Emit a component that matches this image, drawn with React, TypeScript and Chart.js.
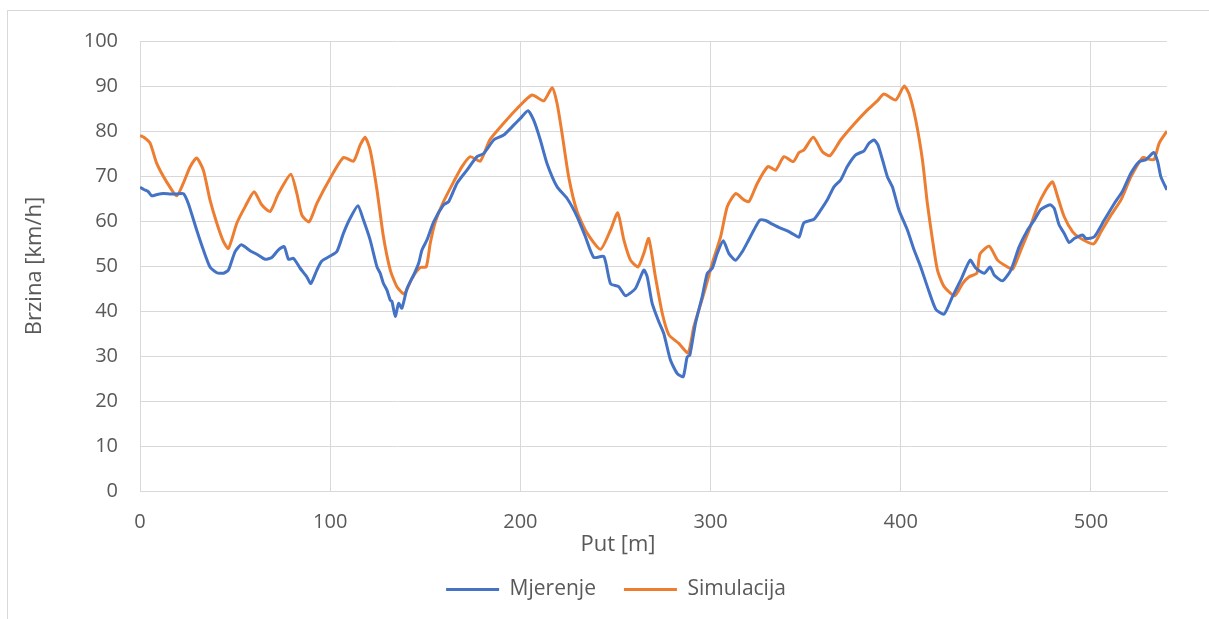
import React, { useEffect, useRef } from "react";
import { Chart, registerables } from "chart.js";

Chart.register(...registerables);

const mjerenjeX = [0, 2, 4.4, 6.1, 9, 12.3, 16, 19.3, 22.8, 25.4, 29.8, 33.3, 36.8, 40.4, 43.9, 46.5, 50, 53.2, 57.9, 62.3, 65.8, 69.3, 72.8, 75.8, 78.1, 80.7, 84.2, 87.7, 89.8, 93, 95.6, 100, 103.5, 107, 110.5, 114.6, 117.5, 121, 124.6, 126.3, 128, 129.8, 131.6, 132.5, 134.2, 136, 137.7, 140.4, 143.9, 146.5, 148.3, 150.9, 154.4, 159.6, 162.3, 166.7, 171.9, 177.2, 180.7, 186, 191.2, 196.5, 200, 204, 207, 210.5, 214, 219.3, 224.6, 229.8, 234.2, 238.6, 243.9, 247.4, 251.7, 255.3, 260.5, 264.9, 266.7, 269.3, 272.8, 275.4, 278.9, 282.5, 285.6, 287.7, 289.1, 292.1, 295.6, 298.3, 300.9, 303.5, 306.7, 309.6, 313.2, 316.7, 319.3, 322.8, 325.9, 328.9, 332.5, 336.8, 340.4, 343.8, 346.5, 349.1, 354.4, 357.9, 361.4, 364.9, 368.4, 371.9, 376.3, 380.7, 383.3, 386, 388, 390.4, 393, 395.6, 399.1, 403.5, 407, 410.5, 414, 418.4, 422.8, 427.2, 431.6, 436.5, 439.5, 443.9, 447, 449.1, 453.5, 457.9, 462.3, 466.7, 470.2, 473.7, 478.6, 480.7, 483.3, 485.9, 488.6, 491.2, 495.6, 497.4, 501.8, 507, 512.3, 516.7, 521, 525.4, 528.9, 533, 535.1, 536.8, 540];
const mjerenjeV = [67.5, 67.0, 66.5, 65.6, 65.9, 66.1, 66.0, 66.0, 66.1, 63.9, 58, 53.6, 49.8, 48.5, 48.4, 49.1, 53.2, 54.7, 53.4, 52.4, 51.5, 51.9, 53.6, 54.3, 51.5, 51.7, 49.5, 47.6, 46.1, 49.1, 51.1, 52.2, 53.2, 57.3, 60.6, 63.4, 60.2, 55.8, 49.8, 48.4, 46.1, 44.7, 42.4, 42.1, 38.8, 41.7, 40.6, 45.0, 48, 50.6, 53.6, 55.8, 59.8, 63.6, 64.3, 68.4, 71.3, 74.3, 75, 78, 79.1, 81.3, 82.8, 84.5, 82.4, 78, 72.8, 67.6, 65, 61, 56.5, 51.9, 52.1, 46.1, 45.4, 43.4, 45, 49.1, 47.6, 41.7, 37.6, 35, 29.1, 26.1, 25.4, 29.8, 30.2, 37.3, 43.2, 48.4, 49.5, 52.8, 55.6, 52.8, 51.3, 53.2, 55.2, 58, 60.2, 60.1, 59.3, 58.4, 57.8, 57, 56.4, 59.6, 60.4, 62.4, 64.7, 67.6, 69.1, 72.1, 74.7, 75.6, 77.3, 78, 76.9, 73.6, 69.8, 67.6, 62.4, 58, 53.6, 49.8, 45.4, 40.4, 39.3, 43.2, 46.9, 51.3, 49.5, 48.4, 49.8, 48, 46.7, 49.1, 54.3, 58, 60.2, 62.6, 63.6, 62.8, 59.1, 57.3, 55.2, 56.1, 56.9, 56.1, 56.5, 60.2, 63.9, 66.7, 70.6, 73.2, 73.6, 75.2, 73.2, 69.8, 66.9];

const simulacijaX = [0, 2, 5.3, 8.8, 14, 19.3, 22.8, 26.3, 29.8, 33.3, 36.8, 40.4, 43.9, 46.5, 50.9, 55.3, 60, 64, 68.4, 72.8, 79.3, 82.5, 85.1, 88.9, 93, 100, 107, 112.3, 115.8, 118.4, 121, 124.6, 128, 131.6, 135.1, 139, 143, 147.4, 150.5, 152.6, 155.3, 159.6, 164.9, 169.3, 173.7, 178.9, 183.9, 191.2, 198.3, 206.1, 212.3, 216.7, 219.3, 221.9, 225.4, 229.8, 235.1, 242.1, 247.4, 251.2, 254.4, 257.9, 261.9, 264.9, 267.5, 271, 274.6, 278.1, 283.3, 288.2, 291.2, 296.5, 300.9, 305.3, 308.8, 313.2, 317.5, 320.2, 324.6, 330.2, 334.2, 338.6, 343.5, 346.5, 349.1, 354, 358.8, 362.8, 368.4, 375.4, 382.5, 387.7, 391.2, 397.4, 401.8, 404.4, 407.9, 411.4, 414, 416.7, 419.3, 422.8, 428.4, 432.5, 436, 440, 441.7, 446.5, 450.9, 455.3, 458.8, 463.2, 467.5, 471.9, 476.3, 479.8, 482.5, 485.9, 490.4, 494.7, 501.4, 505.3, 510.5, 515.8, 521, 527.2, 530.7, 533.3, 535.9, 540];
const simulacijaV = [79.0, 78.6, 77.3, 72.8, 68.7, 65.6, 68.4, 72, 74, 71.3, 64.7, 59.5, 55.4, 53.9, 59.5, 63.2, 66.5, 63.6, 62.1, 66.1, 70.4, 66.1, 61.3, 59.8, 63.9, 69.5, 74.1, 73.3, 76.9, 78.6, 75.8, 66.9, 56.5, 49.1, 45.4, 43.8, 47.3, 49.7, 49.8, 55, 59.8, 64.3, 68.7, 72.1, 74.3, 73.3, 78, 81.7, 85, 88, 86.7, 89.6, 86.1, 79.5, 69.8, 62.1, 57.3, 53.7, 58, 61.8, 55.8, 51.3, 49.8, 52.8, 56.1, 47.6, 39.5, 34.7, 32.8, 30.7, 36.5, 43.9, 50.6, 56.5, 63.2, 66.1, 64.7, 64.3, 68.4, 72.1, 71.3, 74.3, 73.2, 75.2, 75.8, 78.6, 75.4, 74.5, 78, 81.5, 84.7, 86.7, 88.2, 86.9, 90, 88.2, 82.4, 73.6, 63.9, 55.8, 49.1, 45.4, 43.4, 46.1, 47.6, 48.4, 52.7, 54.4, 51.3, 50, 49.3, 53.6, 58, 63.2, 66.9, 68.7, 65.4, 61, 57.6, 56.1, 54.9, 57.6, 61.3, 64.7, 69.8, 74.1, 73.7, 73.7, 77.3, 80];

const seriesNames = ["Mjerenje", "Simulacija"];
const seriesColors = ["#4472C4", "#ED7D31"];
const xTitle = "Put [m]";
const yTitle = "Brzina [km/h]";

const FONT = "'Open Sans', 'DejaVu Sans', sans-serif";
const TEXT = "#595959";
const GRID = "#d9d9d9";

// Draws the x-axis title centred on the whole chart frame (as Excel does)
const xTitlePlugin = {
  id: "xTitleFrame",
  afterDraw(chart: any) {
    const ctx = chart.ctx;
    ctx.save();
    ctx.font = `22px ${FONT}`;
    ctx.fillStyle = TEXT;
    ctx.textAlign = "center";
    ctx.textBaseline = "middle";
    ctx.fillText(xTitle, 618, 545);
    ctx.restore();
  },
};

export default function App() {
  const ref = useRef<HTMLCanvasElement | null>(null);

  useEffect(() => {
    if (!ref.current) return;
    const toPts = (xs: number[], vs: number[]) => xs.map((x, i) => ({ x, y: vs[i] }));
    const chart = new Chart(ref.current, {
      type: "line",
      data: {
        datasets: [
          {
            label: seriesNames[0],
            data: toPts(mjerenjeX, mjerenjeV),
            borderColor: seriesColors[0],
            backgroundColor: seriesColors[0],
            borderWidth: 3,
            pointRadius: 0,
            tension: 0.2,
          },
          {
            label: seriesNames[1],
            data: toPts(simulacijaX, simulacijaV),
            borderColor: seriesColors[1],
            backgroundColor: seriesColors[1],
            borderWidth: 3,
            pointRadius: 0,
            tension: 0.2,
          },
        ],
      },
      plugins: [xTitlePlugin],
      options: {
        animation: false,
        responsive: false,
        maintainAspectRatio: false,
        layout: { padding: { left: 65, right: 42, top: 41, bottom: 9 } },
        plugins: {
          tooltip: { enabled: false },
          legend: {
            position: "bottom",
            labels: {
              usePointStyle: true,
              pointStyle: "line",
              pointStyleWidth: 53,
              boxHeight: 21,
              padding: 28,
              color: TEXT,
              font: { family: FONT, size: 21 },
            },
          },
        },
        scales: {
          x: {
            type: "linear",
            min: 0,
            max: 540,
            afterFit: (axis: any) => {
              axis.height = 60;
            },
            ticks: {
              stepSize: 100,
              includeBounds: false,
              padding: 19,
              color: TEXT,
              font: { family: FONT, size: 20 },
              maxRotation: 0,
            },
            grid: { color: GRID, lineWidth: 1, drawTicks: false },
            border: { color: GRID, width: 1 },
          },
          y: {
            min: 0,
            max: 100,
            afterFit: (axis: any) => {
              axis.width = 75;
            },
            ticks: {
              stepSize: 10,
              padding: 22,
              color: TEXT,
              font: { family: FONT, size: 20 },
            },
            grid: { color: GRID, lineWidth: 1, drawTicks: false },
            border: { color: GRID, width: 1 },
            title: {
              display: true,
              text: yTitle,
              color: TEXT,
              font: { family: FONT, size: 22 },
              padding: { top: -43, bottom: 0 },
            },
          },
        },
      },
    });
    return () => chart.destroy();
  }, []);

  return (
    <div style={{ position: "fixed", left: 0, top: 0, width: 1209, height: 619, background: "#fff", overflow: "hidden" }}>
      <div
        style={{
          position: "absolute",
          left: 7,
          top: 10,
          width: 1400,
          height: 800,
          border: "1px solid #d9d9d9",
          boxSizing: "border-box",
        }}
      />
      <canvas ref={ref} width={1209} height={619} style={{ position: "absolute", left: 0, top: 0, width: 1209, height: 619 }} />
    </div>
  );
}
